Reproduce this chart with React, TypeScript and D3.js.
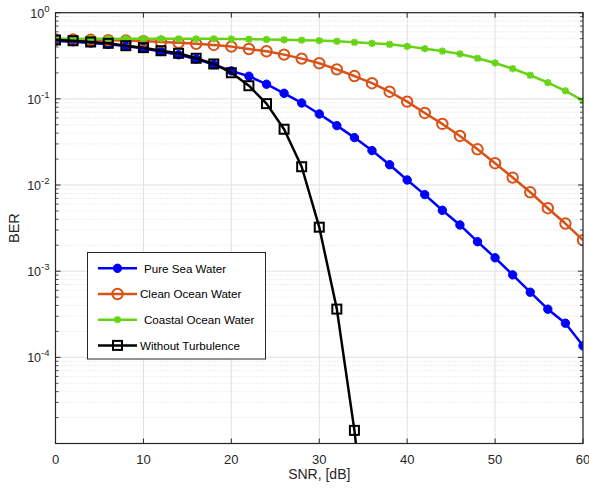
import React from "react";
import * as d3 from "d3";

const snr = d3.range(0, 61, 2);

const pureSea = [
  0.47, 0.46, 0.445, 0.43, 0.41, 0.385, 0.355, 0.325, 0.29, 0.25, 0.211,
  0.183, 0.148, 0.116, 0.0896, 0.0668, 0.0489, 0.0355, 0.0251, 0.0172, 0.01145,
  0.00774, 0.00509, 0.00344, 0.0022, 0.00143, 0.000906, 0.00057, 0.000362, 0.000249, 0.000136,
];
const cleanOcean = [
  0.49, 0.488, 0.485, 0.48, 0.475, 0.468, 0.458, 0.448, 0.436, 0.422, 0.404,
  0.379, 0.357, 0.326, 0.293, 0.259, 0.22, 0.184, 0.152, 0.121, 0.0929,
  0.0686, 0.0512, 0.0371, 0.026, 0.0179, 0.0122, 0.00824, 0.00538, 0.00357, 0.00229,
];
const coastalOcean = [
  0.5, 0.5, 0.5, 0.5, 0.5, 0.499, 0.499, 0.498, 0.498, 0.497, 0.495,
  0.492, 0.489, 0.485, 0.48, 0.475, 0.466, 0.453, 0.441, 0.43, 0.407,
  0.382, 0.359, 0.332, 0.296, 0.261, 0.224, 0.188, 0.154, 0.124, 0.0954,
];
// stops once it leaves the axis
const noTurbSnr = [0, 2, 4, 6, 8, 10, 12, 14, 16, 18, 20, 22, 24, 26, 28, 30, 32, 34, 36];
const noTurb = [
  0.482, 0.473, 0.457, 0.441, 0.414, 0.393, 0.362, 0.338, 0.296, 0.254, 0.201,
  0.142, 0.088, 0.0444, 0.0163, 0.00324, 0.000363, 0.0000142, 0.0000002,
];

const xTicks = [0, 10, 20, 30, 40, 50, 60];
const yDecades = [0, -1, -2, -3, -4];

const BLUE = "#0000ff";
const ORANGE = "#d95319";
const GREEN = "#66d414";
const BLACK = "#000000";

const W = 589;
const H = 489;
const L = 55.5;
const R = 583;
const T = 12.7;
const B = 443.5;
const FONT = "Helvetica, Arial, 'Liberation Sans', sans-serif";

const x = d3.scaleLinear().domain([0, 60]).range([L, R]);
const y = d3.scaleLog().domain([1e-5, 1]).range([B, T]);

function Marker({ kind, cx, cy, color }: { kind: string; cx: number; cy: number; color: string }) {
  if (kind === "dot") return <circle cx={cx} cy={cy} r={4.2} fill={color} stroke={color} />;
  if (kind === "circle")
    return <circle cx={cx} cy={cy} r={5.2} fill="none" stroke={color} strokeWidth={2} />;
  if (kind === "star") {
    const s = 3.6;
    return (
      <g stroke={color} strokeWidth={2}>
        <line x1={cx - s} y1={cy} x2={cx + s} y2={cy} />
        <line x1={cx} y1={cy - s} x2={cx} y2={cy + s} />
        <line x1={cx - s * 0.75} y1={cy - s * 0.75} x2={cx + s * 0.75} y2={cy + s * 0.75} />
        <line x1={cx - s * 0.75} y1={cy + s * 0.75} x2={cx + s * 0.75} y2={cy - s * 0.75} />
      </g>
    );
  }
  return <rect x={cx - 4.5} y={cy - 4.5} width={9} height={9} fill="none" stroke={color} strokeWidth={2} />;
}

const series = [
  { name: "Pure Sea Water", xs: snr, ys: pureSea, color: BLUE, kind: "dot" },
  { name: "Clean Ocean Water", xs: snr, ys: cleanOcean, color: ORANGE, kind: "circle" },
  { name: "Coastal Ocean Water", xs: snr, ys: coastalOcean, color: GREEN, kind: "star" },
  { name: "Without Turbulence", xs: noTurbSnr, ys: noTurb, color: BLACK, kind: "square" },
];

export default function App() {
  const line = d3
    .line<[number, number]>()
    .x((d) => x(d[0]))
    .y((d) => y(d[1]));

  const minor: number[] = [];
  yDecades.forEach((e) => {
    for (let k = 2; k <= 9; k++) minor.push(k * Math.pow(10, e - 1));
  });

  return (
    <svg width={W} height={H} style={{ position: "absolute", left: 0, top: 0, background: "#fff" }} fontFamily={FONT}>
      <defs>
        <clipPath id="plot">
          <rect x={L} y={T} width={R - L} height={B - T} />
        </clipPath>
      </defs>
      <rect x={0} y={0} width={W} height={H} fill="#fff" />
      {/* minor grid */}
      {minor.map((v) => (
        <line key={"mg" + v} x1={L} x2={R} y1={y(v)} y2={y(v)} stroke="#d0d0d0" strokeWidth={0.7} strokeDasharray="1,2" />
      ))}
      {/* major grid */}
      {yDecades.map((e) => (
        <line key={"gy" + e} x1={L} x2={R} y1={y(Math.pow(10, e))} y2={y(Math.pow(10, e))} stroke="#e0e0e0" strokeWidth={1} />
      ))}
      {xTicks.map((t) => (
        <line key={"gx" + t} x1={x(t)} x2={x(t)} y1={T} y2={B} stroke="#e0e0e0" strokeWidth={1} />
      ))}

      {/* series */}
      <g clipPath="url(#plot)">
        {series.map((s) => {
          const pts = s.xs.map((v, i) => [v, s.ys[i]] as [number, number]);
          return (
            <g key={s.name}>
              <path d={line(pts) || ""} fill="none" stroke={s.color} strokeWidth={2.5} strokeLinejoin="round" />
              {pts.map((p, i) => (
                <Marker key={i} kind={s.kind} cx={x(p[0])} cy={y(p[1])} color={s.color} />
              ))}
            </g>
          );
        })}
      </g>

      {/* axes box */}
      <rect x={L} y={T} width={R - L} height={B - T} fill="none" stroke="#262626" strokeWidth={1.2} />
      {xTicks.map((t) => (
        <g key={"tx" + t}>
          <line x1={x(t)} x2={x(t)} y1={B} y2={B - 5} stroke="#262626" />
          <line x1={x(t)} x2={x(t)} y1={T} y2={T + 5} stroke="#262626" />
          <text x={x(t)} y={B + 20.5} textAnchor="middle" fontSize={13} fill="#262626">
            {t}
          </text>
        </g>
      ))}
      {minor.map((v) => (
        <g key={"mt" + v}>
          <line x1={L} x2={L + 3} y1={y(v)} y2={y(v)} stroke="#262626" strokeWidth={0.8} />
          <line x1={R} x2={R - 3} y1={y(v)} y2={y(v)} stroke="#262626" strokeWidth={0.8} />
        </g>
      ))}
      {yDecades.map((e) => {
        const yy = y(Math.pow(10, e));
        return (
          <g key={"ty" + e}>
            <line x1={L} x2={L + 5} y1={yy} y2={yy} stroke="#262626" />
            <line x1={R} x2={R - 5} y1={yy} y2={yy} stroke="#262626" />
            <text x={L - 6} y={yy + 5} textAnchor="end" fontSize={12.5} fill="#262626">
              10
              <tspan fontSize={9.5} dy={-6}>
                {e}
              </tspan>
            </text>
          </g>
        );
      })}

      <text x={(L + R) / 2} y={479} textAnchor="middle" fontSize={14} fill="#262626">
        SNR, [dB]
      </text>
      <text transform={`translate(19,${(T + B) / 2}) rotate(-90)`} textAnchor="middle" fontSize={14.5} fill="#262626">
        BER
      </text>

      {/* legend */}
      <rect x={87.5} y={252.5} width={178} height={106.5} fill="#fff" stroke="#262626" strokeWidth={1} />
      {series.map((s, i) => {
        const ly = 268.3 + i * 25.7;
        const tx = i % 2 === 0 ? 144 : 140;
        return (
          <g key={"lg" + s.name}>
            <line x1={98} x2={137} y1={ly} y2={ly} stroke={s.color} strokeWidth={2.5} />
            <Marker kind={s.kind} cx={117.5} cy={ly} color={s.color} />
            <text x={tx} y={ly + 4.2} fontSize={11.6} fill="#000">
              {s.name}
            </text>
          </g>
        );
      })}
    </svg>
  );
}
